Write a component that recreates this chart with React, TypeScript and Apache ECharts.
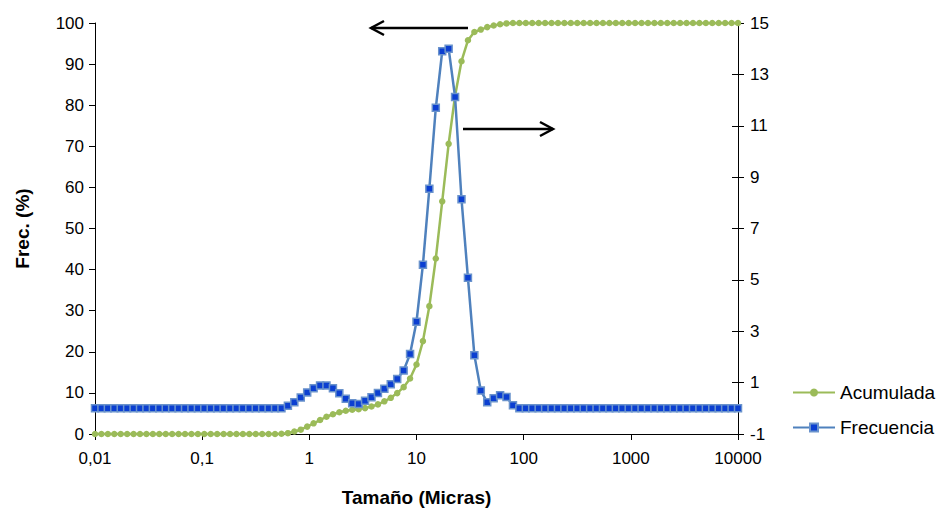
import React, { useEffect, useRef } from "react";
import * as echarts from "echarts";

const sizes = [
  0.01, 0.01148, 0.01318, 0.01514, 0.01738, 0.01995, 0.02291, 0.0263, 0.0302, 0.03467,
  0.03981, 0.04571, 0.05248, 0.06026, 0.06918, 0.07943, 0.0912, 0.1047, 0.1202, 0.138,
  0.1585, 0.182, 0.2089, 0.2399, 0.2754, 0.3162, 0.3631, 0.4169, 0.4786, 0.5495,
  0.631, 0.7244, 0.8318, 0.955, 1.096, 1.259, 1.445, 1.66, 1.905, 2.188,
  2.512, 2.884, 3.311, 3.802, 4.365, 5.012, 5.754, 6.607, 7.586, 8.71,
  10, 11.48, 13.18, 15.14, 17.38, 19.95, 22.91, 26.3, 30.2, 34.67,
  39.81, 45.71, 52.48, 60.26, 69.18, 79.43, 91.2, 104.7, 120.2, 138,
  158.5, 182, 208.9, 239.9, 275.4, 316.2, 363.1, 416.9, 478.6, 549.5,
  631, 724.4, 831.8, 955, 1096, 1259, 1445, 1660, 1905, 2188,
  2512, 2884, 3311, 3802, 4365, 5012, 5754, 6607, 7586, 8710,
  10000,
];

const acumulada = [
  0, 0, 0, 0, 0, 0, 0, 0, 0, 0,
  0, 0, 0, 0, 0, 0, 0, 0, 0, 0,
  0, 0, 0, 0, 0, 0, 0, 0, 0, 0.05,
  0.2, 0.6, 1.05, 1.8, 2.6, 3.4, 4.2, 4.8, 5.3, 5.65,
  5.9, 6.05, 6.3, 6.7, 7.2, 7.95, 8.8, 9.95, 11.4, 13.5,
  16.9, 22.6, 31.1, 42.7, 56.6, 70.6, 82.3, 90.7, 95.8, 97.8,
  98.4, 99.0, 99.4, 99.7, 99.9, 100, 100, 100, 100, 100,
  100, 100, 100, 100, 100, 100, 100, 100, 100, 100,
  100, 100, 100, 100, 100, 100, 100, 100, 100, 100,
  100, 100, 100, 100, 100, 100, 100, 100, 100, 100,
  100,
];

const frecuencia = [
  0, 0, 0, 0, 0, 0, 0, 0, 0, 0,
  0, 0, 0, 0, 0, 0, 0, 0, 0, 0,
  0, 0, 0, 0, 0, 0, 0, 0, 0, 0,
  0.1, 0.24, 0.42, 0.62, 0.78, 0.89, 0.89, 0.78, 0.59, 0.37,
  0.2, 0.17, 0.29, 0.43, 0.6, 0.76, 0.94, 1.14, 1.47, 2.11,
  3.37, 5.59, 8.55, 11.7, 13.9, 14.0, 12.12, 8.14, 5.08, 2.07,
  0.69, 0.24, 0.39, 0.51, 0.44, 0.12, 0, 0, 0, 0,
  0, 0, 0, 0, 0, 0, 0, 0, 0, 0,
  0, 0, 0, 0, 0, 0, 0, 0, 0, 0,
  0, 0, 0, 0, 0, 0, 0, 0, 0, 0,
  0,
];

const xTickLabels = ["0,01", "0,1", "1", "10", "100", "1000", "10000"];
const seriesNames = ["Acumulada", "Frecuencia"];
const xAxisTitle = "Tamaño (Micras)";
const yAxisTitle = "Frec. (%)";

const FONT = "'Liberation Sans', Arial, sans-serif";

export default function App() {
  const ref = useRef<HTMLDivElement>(null);
  useEffect(() => {
    if (!ref.current) return;
    const chart = echarts.init(ref.current, null, { renderer: "svg" });
    const axisLine = { show: true, lineStyle: { color: "#000", width: 1 } };
    const labelStyle = { color: "#000", fontSize: 17, fontFamily: FONT };
    const titleStyle = { color: "#000", fontSize: 19, fontWeight: "bold", fontFamily: FONT };
    chart.setOption({
      animation: false,
      backgroundColor: "#fff",
      textStyle: { fontFamily: FONT },
      grid: { left: 95, right: 202, top: 23, bottom: 70, containLabel: false },
      legend: {
        data: seriesNames,
        orient: "vertical",
        left: 787,
        top: 378,
        itemWidth: 42,
        itemHeight: 10,
        itemGap: 16,
        textStyle: { color: "#000", fontSize: 19, fontFamily: FONT },
      },
      xAxis: {
        type: "log",
        logBase: 10,
        min: 0.01,
        max: 10000,
        name: xAxisTitle,
        nameLocation: "middle",
        nameGap: 54,
        nameTextStyle: titleStyle,
        axisLine: { ...axisLine, onZero: false },
        axisTick: { show: true, inside: false, length: 6, lineStyle: { color: "#000" } },
        minorTick: { show: false },
        splitLine: { show: false },
        axisLabel: {
          ...labelStyle,
          margin: 16,
          formatter: (v: number) => xTickLabels[Math.round(Math.log10(v)) + 2],
        },
      },
      yAxis: [
        {
          type: "value",
          position: "left",
          min: 0,
          max: 100,
          interval: 10,
          name: yAxisTitle,
          nameLocation: "middle",
          nameRotate: 90,
          nameGap: 63,
          nameTextStyle: titleStyle,
          axisLine,
          axisTick: { show: true, inside: false, length: 6, lineStyle: { color: "#000" } },
          splitLine: { show: false },
          axisLabel: { ...labelStyle, margin: 11 },
        },
        {
          type: "value",
          position: "right",
          min: -1,
          max: 15,
          interval: 2,
          axisLine,
          axisTick: { show: true, inside: false, length: 6, lineStyle: { color: "#000" } },
          splitLine: { show: false },
          axisLabel: { ...labelStyle, margin: 12 },
        },
        {
          type: "value",
          position: "right",
          min: -1,
          max: 15,
          interval: 2,
          axisLine: { show: false },
          axisTick: { show: true, inside: true, length: 6, lineStyle: { color: "#000" } },
          splitLine: { show: false },
          axisLabel: { show: false },
        },
      ],
      series: [
        {
          name: seriesNames[0],
          type: "line",
          yAxisIndex: 0,
          data: sizes.map((s, i) => [s, acumulada[i]]),
          symbol: "circle",
          symbolSize: 6.5,
          lineStyle: { color: "#9BBB59", width: 2.5 },
          itemStyle: { color: "#9BBB59" },
          z: 2,
        },
        {
          name: seriesNames[1],
          type: "line",
          yAxisIndex: 1,
          data: sizes.map((s, i) => [s, frecuencia[i]]),
          symbol: "rect",
          symbolSize: 7,
          lineStyle: { color: "#4F81BD", width: 2.5 },
          itemStyle: { color: "#0B3FD1", borderColor: "#6A93CC", borderWidth: 1.5 },
          z: 3,
        },
      ],
      graphic: [
        {
          type: "line",
          shape: { x1: 468, y1: 28, x2: 371, y2: 28 },
          style: { stroke: "#000", lineWidth: 2.5 },
          z: 10,
        },
        {
          type: "polyline",
          shape: { points: [[384, 21], [371, 28], [384, 35]] },
          style: { stroke: "#000", lineWidth: 2.5, fill: "none" },
          z: 10,
        },
        {
          type: "line",
          shape: { x1: 463, y1: 129, x2: 553, y2: 129 },
          style: { stroke: "#000", lineWidth: 2.5 },
          z: 10,
        },
        {
          type: "polyline",
          shape: { points: [[540, 122], [553, 129], [540, 136]] },
          style: { stroke: "#000", lineWidth: 2.5, fill: "none" },
          z: 10,
        },
      ],
    });
    return () => chart.dispose();
  }, []);
  return (
    <div
      ref={ref}
      style={{ position: "fixed", left: 0, top: 0, width: 940, height: 512, background: "#fff" }}
    />
  );
}
